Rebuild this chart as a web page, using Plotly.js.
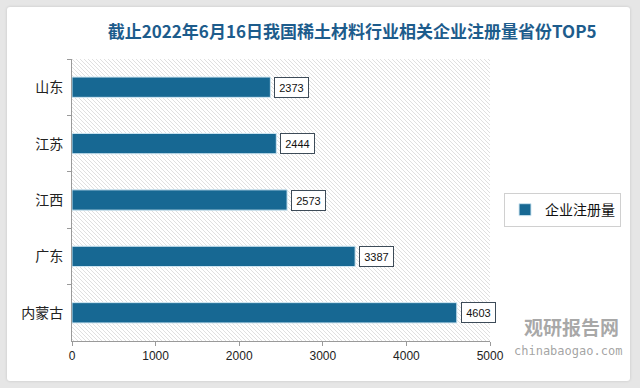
<!DOCTYPE html>
<html><head><meta charset="utf-8">
<script src="https://cdn.plot.ly/plotly-3.0.1.min.js"></script>
<style>
html,body{margin:0;padding:0;background:#e6e6e6;width:640px;height:388px;overflow:hidden;}
#frame{position:absolute;left:7px;top:7px;width:623px;height:374px;background:#fff;border-radius:3px;box-shadow:0 0 3px rgba(0,0,0,0.15);}
#chart{width:623px;height:374px;}
</style></head>
<body><div id="frame"><div id="chart"></div></div>
<script>
const provinces = ['山东','江苏','江西','广东','内蒙古'];
const registrations = [2373, 2444, 2573, 3387, 4603];
const seriesName = '企业注册量';
const xTicks = [0, 1000, 2000, 3000, 4000, 5000];
const titleText = '截止2022年6月16日我国稀土材料行业相关企业注册量省份TOP5';

const hatch = "<svg xmlns='http://www.w3.org/2000/svg' width='418' height='282'><defs>" +
  "<pattern id='p' width='4' height='4' patternUnits='userSpaceOnUse'>" +
  "<path d='M-1,-1 L5,5 M-1,3 L1,5 M3,-1 L5,1' stroke='#dcdcdc' stroke-width='0.9'/></pattern></defs>" +
  "<rect width='100%' height='100%' fill='url(#p)'/></svg>";

const trace = {
  type: 'bar', orientation: 'h',
  y: provinces, x: registrations, name: seriesName,
  width: 0.36,
  marker: {color: '#176893', line: {color: '#cfe6f2', width: 1}},
  hoverinfo: 'none', showlegend: true
};

const annotations = provinces.map((p, i) => ({
  x: registrations[i], y: p, xref: 'x', yref: 'y',
  text: String(registrations[i]), showarrow: false,
  xanchor: 'left', yanchor: 'middle', xshift: 4,
  font: {family: 'Liberation Sans, Arial', size: 11, color: '#111'},
  bgcolor: '#ffffff', bordercolor: '#3d4b58', borderwidth: 1, borderpad: 1,
  width: 31, height: 17
}));
annotations.push({
  x: 1.196, y: 0.05, xref: 'paper', yref: 'paper', text: '<b>观研报告网</b>', showarrow: false,
  xanchor: 'center', yanchor: 'middle',
  font: {family: 'Noto Sans CJK SC', size: 19, color: 'rgba(140,140,140,0.75)'}
});
annotations.push({
  x: 1.3206, y: -0.035, xref: 'paper', yref: 'paper', text: 'chinabaogao.com', showarrow: false,
  xanchor: 'right', yanchor: 'middle',
  font: {family: 'DejaVu Sans Mono', size: 12, color: 'rgba(140,140,140,0.8)'}
});

const layout = {
  width: 623, height: 374,
  margin: {l: 65, r: 140, t: 52, b: 40},
  paper_bgcolor: 'rgba(0,0,0,0)', plot_bgcolor: 'rgba(0,0,0,0)',
  title: {text: titleText, x: 0.554, xref: 'container', xanchor: 'center',
          y: 0.933, yref: 'container', yanchor: 'middle',
          font: {family: 'Noto Sans CJK SC', size: 17, color: '#1d5c8c', weight: 'bold'}},
  xaxis: {range: [0, 5000], tickvals: xTicks, ticktext: xTicks.map(String),
          showgrid: false, zeroline: false, showline: true, linecolor: '#9a9a9a', linewidth: 1,
          ticks: 'outside', ticklen: 4, tickcolor: '#9a9a9a',
          tickfont: {family: 'Liberation Sans, Arial', size: 12, color: '#222'}, fixedrange: true},
  yaxis: {autorange: 'reversed', type: 'category',
          showgrid: false, zeroline: false, showline: true, linecolor: '#9a9a9a', linewidth: 1,
          ticks: 'outside', ticklen: 4, tickcolor: '#9a9a9a', tickson: 'boundaries',
          ticklabelstandoff: 5,
          tickfont: {family: 'Noto Sans CJK SC', size: 14, color: '#222'}, fixedrange: true},
  legend: {x: 0.9856, y: 0.457, xref: 'container', yref: 'container', xanchor: 'right', yanchor: 'middle',
           bgcolor: '#ffffff', bordercolor: '#d0d0d0', borderwidth: 1, itemwidth: 30,
           font: {family: 'Noto Sans CJK SC', size: 14, color: '#111'}},
  images: [{source: 'data:image/svg+xml;charset=utf-8,' + encodeURIComponent(hatch),
            xref: 'paper', yref: 'paper', x: 0, y: 1, sizex: 1, sizey: 1,
            sizing: 'stretch', xanchor: 'left', yanchor: 'top', layer: 'below'}],
  annotations: annotations,
  showlegend: true
};

Plotly.newPlot('chart', [trace], layout, {displayModeBar: false, staticPlot: true});
</script></body></html>
